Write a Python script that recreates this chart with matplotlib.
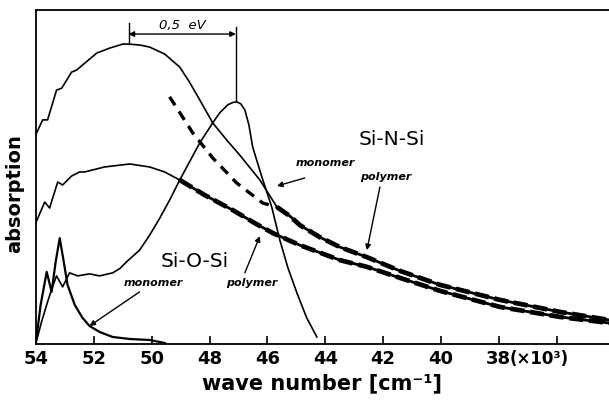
import matplotlib
matplotlib.use("Agg")
import matplotlib.pyplot as plt
import numpy as np

# wave number in units of 10^3 cm^-1, absorption in arbitrary units (0..100)

# Si-N-Si monomer (thin solid), before it merges into the common band
sin_mono_x = [54.01, 53.77, 53.60, 53.29, 53.11, 52.77, 52.60, 51.90, 51.45, 51.00,
              50.80, 50.40, 50.07, 49.55, 49.03, 48.70, 48.34, 47.89, 47.40, 46.96,
              46.26, 45.67]
sin_mono_y = [62.6, 67.1, 67.1, 76.0, 76.6, 81.4, 82.0, 87.1, 88.6, 89.8,
              89.8, 89.5, 88.9, 86.8, 82.9, 78.5, 73.1, 66.2, 61.0, 56.6,
              49.1, 41.0]

# Si-N-Si polymer (dashed), before the merge
sin_poly_x = [49.38, 48.58, 47.89, 47.06, 46.16, 45.67]
sin_poly_y = [74.0, 63.2, 55.7, 48.2, 42.2, 41.0]

# common low-energy tail of both Si-N-Si curves
sin_tail_x = [45.67, 45.22, 44.88, 44.19, 43.49, 42.56, 41.42, 40.03, 37.96, 35.88, 34.19]
sin_tail_y = [41.0, 38.3, 35.6, 32.0, 29.0, 26.0, 21.9, 17.7, 13.2, 9.6, 7.2]

# Si-O-Si polymer
sio_poly_x = [54.01, 53.70, 53.53, 53.25, 53.08, 52.77, 52.49, 52.32, 51.63, 50.76,
              50.07, 49.55, 49.03, 48.17, 47.20, 46.44, 45.81, 44.88, 43.49, 42.56,
              41.42, 40.03, 37.96, 35.88, 34.19]
sio_poly_y = [36.2, 42.5, 40.7, 48.5, 47.6, 50.3, 51.5, 51.5, 53.0, 53.9,
              53.0, 51.5, 49.1, 44.6, 40.1, 36.2, 33.2, 29.6, 25.1, 23.1,
              19.8, 15.9, 11.1, 8.1, 6.3]

# shifted band (peak 0.5 eV below the Si-N-Si monomer peak)
band_x = [54.01, 53.81, 53.60, 53.43, 53.29, 53.08, 52.84, 52.56, 52.15, 51.80,
          51.35, 51.10, 50.87, 50.42, 50.07, 49.72, 49.38, 49.03, 48.34, 47.89,
          47.65, 47.37, 47.20, 47.06, 46.92, 46.78, 46.64, 46.51, 46.19, 45.85,
          45.57, 45.29, 44.98, 44.64, 44.29]
band_y = [0.0, 6.6, 12.6, 17.1, 20.4, 17.1, 21.3, 20.4, 21.0, 20.4,
          21.3, 22.6, 24.6, 28.1, 32.6, 37.7, 43.1, 49.1, 60.2, 66.2,
          69.2, 71.6, 72.3, 72.5, 71.9, 70.1, 65.6, 59.0, 50.0, 41.0,
          31.1, 22.8, 15.3, 7.8, 2.1]

# Si-O-Si monomer
sio_mono_x = [54.01, 53.84, 53.63, 53.46, 53.32, 53.18, 53.04, 52.91, 52.66, 52.39,
              52.15, 51.80, 51.35, 50.76, 50.07, 49.55]
sio_mono_y = [0.0, 11.7, 21.6, 15.6, 24.6, 31.7, 24.6, 17.7, 11.7, 7.8,
              5.4, 3.6, 2.1, 1.5, 1.2, 0.3]

peak_left = 50.80
peak_right = 47.09

tick_pos = [54, 52, 50, 48, 46, 44, 42, 40, 38, 36]
tick_lab = ["54", "52", "50", "48", "46", "44", "42", "40", "38", ""]

fig = plt.figure(figsize=(6.09, 4.0), dpi=100)
ax = fig.add_axes([36 / 609, 56 / 400, 573 / 609, 334 / 400])

lw = 1.2
ax.plot(sin_mono_x, sin_mono_y, color="black", lw=lw)
ax.plot(sin_poly_x, sin_poly_y, color="black", lw=2.4, ls=(0, (3, 2.2)))
ax.plot(sin_tail_x, sin_tail_y, color="black", lw=2.0)
ax.plot(sin_tail_x, sin_tail_y, color="black", lw=3.4, ls=(0, (3, 1.2)))

sx = np.array(sio_poly_x)
sy = np.array(sio_poly_y)
ax.plot(sx, sy, color="black", lw=lw)
m = sx <= 49.3
ax.plot(sx[m], sy[m], color="black", lw=2.0)
ax.plot(sx[m], sy[m], color="black", lw=3.4, ls=(0, (3, 1.2)))

ax.plot(band_x, band_y, color="black", lw=lw)
ax.plot(sio_mono_x, sio_mono_y, color="black", lw=1.6)

ax.set_xlim(54.0, 34.19)
ax.set_ylim(0, 100)

# 0.5 eV marker
ax.plot([peak_left, peak_left], [89.8, 96.1], color="black", lw=1.0)
ax.plot([peak_right, peak_right], [72.8, 94.9], color="black", lw=1.0)
ax.annotate("", xy=(peak_left, 92.8), xytext=(peak_right, 92.8),
            arrowprops=dict(arrowstyle="<|-|>", color="black", lw=1.0,
                            mutation_scale=8, shrinkA=0, shrinkB=0))
ax.text(48.93, 95.4, "0,5  eV", ha="center", va="center", fontsize=9.5,
        style="italic")

ax.text(41.70, 61.1, "Si-N-Si", ha="center", va="center", fontsize=14.5)
ax.text(48.51, 24.6, "Si-O-Si", ha="center", va="center", fontsize=14.5)

small = dict(fontsize=8, style="italic", weight="bold", ha="center", va="center")
arrow = dict(arrowstyle="-|>", color="black", lw=1.0, mutation_scale=8,
             shrinkA=0, shrinkB=0)
ax.text(44.01, 54.2, "monomer", **small)
ax.annotate("", xy=(45.67, 47.3), xytext=(44.71, 49.7), arrowprops=arrow)
ax.text(41.90, 50.0, "polymer", **small)
ax.annotate("", xy=(42.56, 28.1), xytext=(42.11, 47.0), arrowprops=arrow)
ax.text(49.93, 18.3, "monomer", **small)
ax.annotate("", xy=(52.15, 5.4), xytext=(50.42, 15.6), arrowprops=arrow)
ax.text(46.54, 18.3, "polymer", **small)
ax.annotate("", xy=(46.26, 32.3), xytext=(46.78, 21.3), arrowprops=arrow)

ax.set_xticks(tick_pos)
ax.set_xticklabels(tick_lab, fontsize=13, fontweight="bold")
ax.annotate("(×10³)", xy=(38, 0), xycoords=("data", "axes fraction"),
            xytext=(8, -4.5), textcoords="offset points", ha="left", va="top",
            fontsize=12, fontweight="bold")
ax.set_yticks([])
ax.tick_params(axis="x", direction="in", length=6, width=1.2, pad=4)

ax.spines["right"].set_visible(False)
for s in ["left", "bottom", "top"]:
    ax.spines[s].set_linewidth(1.3)

ax.set_xlabel("wave number [cm⁻¹]", fontsize=15, fontweight="bold", labelpad=4)
ax.set_ylabel("absorption", fontsize=14, fontweight="bold")
ax.yaxis.set_label_coords(-0.02, 0.45)

fig.savefig("out.png", dpi=100)
